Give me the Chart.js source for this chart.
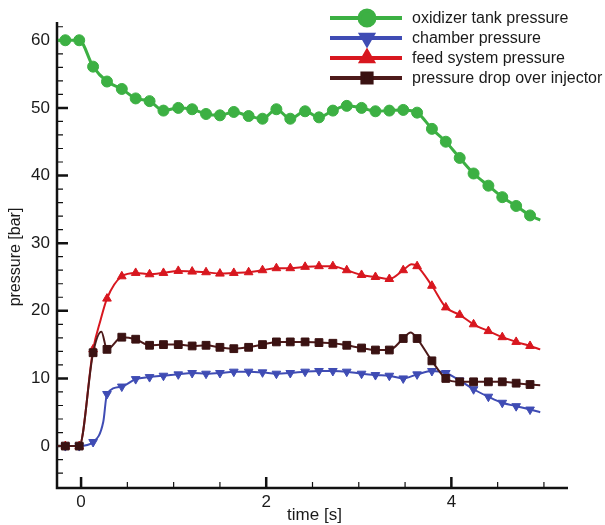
<!DOCTYPE html>
<html lang="en">
<head>
  <meta charset="UTF-8">
  <title>Pressure history</title>
  <script src="https://cdn.jsdelivr.net/npm/chart.js"></script>
  <style>
    body {
      margin: 0;
      background: #fff;
    }
    #wrap {
      width: 605px;
      height: 525px;
    }
  </style>
</head>
<body>
  <div id="wrap">
    <canvas id="pChart" width="605" height="525"></canvas>
  </div>

  <script>
    // marker sample times [s]
    const time = [-0.17, -0.02, 0.13, 0.28, 0.44, 0.59, 0.74, 0.89, 1.05, 1.20, 1.35, 1.50,
                  1.65, 1.81, 1.96, 2.11, 2.26, 2.42, 2.57, 2.72, 2.87, 3.03, 3.18, 3.33,
                  3.48, 3.63, 3.79, 3.94, 4.09, 4.24, 4.40, 4.55, 4.70, 4.85];

    // pressures at the marker times [bar]
    const oxidizer = [60.0, 60.0, 56.1, 53.9, 52.8, 51.4, 51.0, 49.6, 50.0, 49.8, 49.1, 48.9,
                      49.4, 48.8, 48.4, 49.8, 48.4, 49.5, 48.6, 49.6, 50.3, 50.0, 49.5, 49.6,
                      49.7, 49.3, 46.9, 45.0, 42.6, 40.3, 38.5, 36.8, 35.5, 34.1];
    const chamber = [0, 0, 0.6, 7.7, 8.8, 9.9, 10.2, 10.4, 10.6, 10.8, 10.7, 10.8,
                     11.0, 11.0, 10.9, 10.7, 10.8, 11.0, 11.1, 11.1, 11.0, 10.7, 10.5, 10.4,
                     10.0, 10.6, 11.1, 10.8, 9.7, 8.4, 7.3, 6.4, 5.9, 5.4];
    const feed = [0, 0, 14.3, 21.8, 25.1, 25.6, 25.4, 25.6, 25.9, 25.8, 25.7, 25.5,
                  25.6, 25.7, 26.0, 26.3, 26.3, 26.5, 26.6, 26.6, 26.0, 25.3, 25.0, 24.7,
                  26.0, 26.6, 23.7, 20.5, 19.4, 18.0, 17.0, 16.1, 15.4, 14.8];
    const injectorDrop = [0, 0, 13.8, 14.3, 16.1, 15.8, 14.9, 15.0, 15.0, 14.8, 14.9, 14.6,
                          14.4, 14.6, 15.0, 15.4, 15.4, 15.4, 15.3, 15.2, 14.9, 14.5, 14.2, 14.2,
                          15.9, 15.9, 12.6, 10.0, 9.5, 9.5, 9.5, 9.5, 9.3, 9.1];

    // line points between markers (no symbol): [t, p]
    const oxidizerExtra = [[-0.25, 60.0], [4.96, 33.4]];
    const chamberExtra = [[-0.25, 0], [0.24, 3.6], [4.96, 5.0]];
    const feedExtra = [[-0.25, 0], [0.21, 18.6], [3.57, 26.9], [4.96, 14.3]];
    const injectorExtra = [[-0.25, 0], [0.22, 16.9], [3.56, 16.8], [4.96, 9.0]];

    const labels = ['oxidizer tank pressure', 'chamber pressure',
                    'feed system pressure', 'pressure drop over injector'];

    const xTicks = [0, 2, 4];
    const yTicks = [0, 10, 20, 30, 40, 50, 60];

    const FONT = '"Liberation Sans", Arial, sans-serif';

    function buildPoints(values, extra) {
      const pts = values.map((v, i) => ({ x: time[i], y: v, mark: true }));
      extra.forEach(([t, v]) => pts.push({ x: t, y: v, mark: false }));
      return pts.sort((a, b) => a.x - b.x);
    }

    function makeSet(label, values, extra, color, style) {
      return {
        label: label,
        data: buildPoints(values, extra),
        borderColor: color,
        backgroundColor: style.fill || color,
        borderWidth: style.width,
        pointStyle: style.point,
        rotation: style.rotation || 0,
        pointRadius: ctx => (ctx.raw && ctx.raw.mark ? style.radius : 0),
        pointBorderWidth: 1,
        pointBorderColor: style.fill || color,
        cubicInterpolationMode: 'monotone',
        order: style.order,
        legendRadius: style.legendRadius
      };
    }

    // axis lines with inward ticks, drawn below the data
    const axisFrame = {
      id: 'axisFrame',
      beforeDatasetsDraw(chart) {
        const { ctx, chartArea: a, scales: { x, y } } = chart;
        ctx.save();
        ctx.strokeStyle = '#111';
        ctx.lineCap = 'butt';

        ctx.lineWidth = 1.2;
        ctx.beginPath();
        for (let v = 0.5; v <= 5.01; v += 0.5) {
          if (xTicks.includes(v)) continue;
          const px = x.getPixelForValue(v);
          ctx.moveTo(px, a.bottom);
          ctx.lineTo(px, a.bottom - 6);
        }
        for (let v = -4; v <= 62; v += 2) {
          if (v % 10 === 0) continue;
          const py = y.getPixelForValue(v);
          ctx.moveTo(a.left, py);
          ctx.lineTo(a.left + 6, py);
        }
        ctx.stroke();

        ctx.lineWidth = 2.5;
        ctx.beginPath();
        xTicks.forEach(v => {
          const px = x.getPixelForValue(v);
          ctx.moveTo(px, a.bottom);
          ctx.lineTo(px, a.bottom - 11);
        });
        yTicks.forEach(v => {
          const py = y.getPixelForValue(v);
          ctx.moveTo(a.left, py);
          ctx.lineTo(a.left + 11, py);
        });
        ctx.stroke();

        ctx.lineWidth = 2.5;
        ctx.beginPath();
        ctx.moveTo(a.left, a.top);
        ctx.lineTo(a.left, a.bottom);
        ctx.lineTo(a.right, a.bottom);
        ctx.stroke();
        ctx.restore();
      }
    };

    // axis titles and the legend box in the upper right
    const decorations = {
      id: 'decorations',
      afterDraw(chart) {
        const { ctx, chartArea: a } = chart;
        ctx.save();
        ctx.fillStyle = '#1a1a1a';
        ctx.font = '17px ' + FONT;
        ctx.textAlign = 'center';
        ctx.textBaseline = 'middle';
        ctx.fillText('time [s]', (a.left + a.right) / 2 + 2, 515);

        ctx.translate(16, 257);
        ctx.rotate(-Math.PI / 2);
        ctx.font = '16px ' + FONT;
        ctx.fillText('pressure [bar]', 0, 0);
        ctx.restore();

        ctx.save();
        chart.data.datasets.forEach((ds, i) => {
          const rowY = 18 + i * 20;
          ctx.strokeStyle = ds.borderColor;
          ctx.lineWidth = 4;
          ctx.beginPath();
          ctx.moveTo(330, rowY);
          ctx.lineTo(402, rowY);
          ctx.stroke();

          ctx.fillStyle = ds.backgroundColor;
          ctx.strokeStyle = ds.backgroundColor;
          Chart.helpers.drawPoint(ctx, {
            pointStyle: ds.pointStyle,
            rotation: ds.rotation,
            radius: ds.legendRadius,
            borderWidth: 1
          }, 367, rowY);

          ctx.fillStyle = '#1a1a1a';
          ctx.font = '16px ' + FONT;
          ctx.textAlign = 'left';
          ctx.textBaseline = 'middle';
          ctx.fillText(labels[i], 412, rowY + 1);
        });
        ctx.restore();
      }
    };

    const ctx = document.getElementById('pChart').getContext('2d');
    new Chart(ctx, {
      type: 'line',
      data: {
        datasets: [
          makeSet(labels[0], oxidizer, oxidizerExtra, '#3cb043',
                  { width: 3, point: 'circle', radius: 5.5, order: 3, legendRadius: 7.5 }),
          makeSet(labels[1], chamber, chamberExtra, '#3f4cb4',
                  { width: 2, point: 'triangle', rotation: 180, radius: 5, order: 2, legendRadius: 6.5 }),
          makeSet(labels[2], feed, feedExtra, '#d8171f',
                  { width: 2, point: 'triangle', radius: 5, order: 1, legendRadius: 6.5 }),
          makeSet(labels[3], injectorDrop, injectorExtra, '#4d1a1a',
                  { width: 2, point: 'rect', radius: 5.5, order: 0, legendRadius: 6.5, fill: '#3a1212' })
        ]
      },
      options: {
        responsive: false,
        animation: false,
        layout: {
          padding: { top: 22, right: 37, left: 0, bottom: 0 }
        },
        plugins: {
          legend: { display: false },
          tooltip: { enabled: false }
        },
        scales: {
          x: {
            type: 'linear',
            min: -0.26,
            max: 5.26,
            afterBuildTicks: s => { s.ticks = xTicks.map(v => ({ value: v })); },
            afterFit: s => { s.height = 37; },
            grid: { display: false, drawTicks: false, tickLength: 0 },
            border: { display: false },
            ticks: {
              color: '#1a1a1a',
              padding: 4,
              font: { family: FONT, size: 17 }
            }
          },
          y: {
            min: -6.2,
            max: 62.7,
            afterBuildTicks: s => { s.ticks = yTicks.map(v => ({ value: v })); },
            afterFit: s => { s.width = 57; },
            grid: { display: false, drawTicks: false, tickLength: 0 },
            border: { display: false },
            ticks: {
              color: '#1a1a1a',
              padding: 7,
              font: { family: FONT, size: 17 }
            }
          }
        }
      },
      plugins: [axisFrame, decorations]
    });
  </script>
</body>
</html>
